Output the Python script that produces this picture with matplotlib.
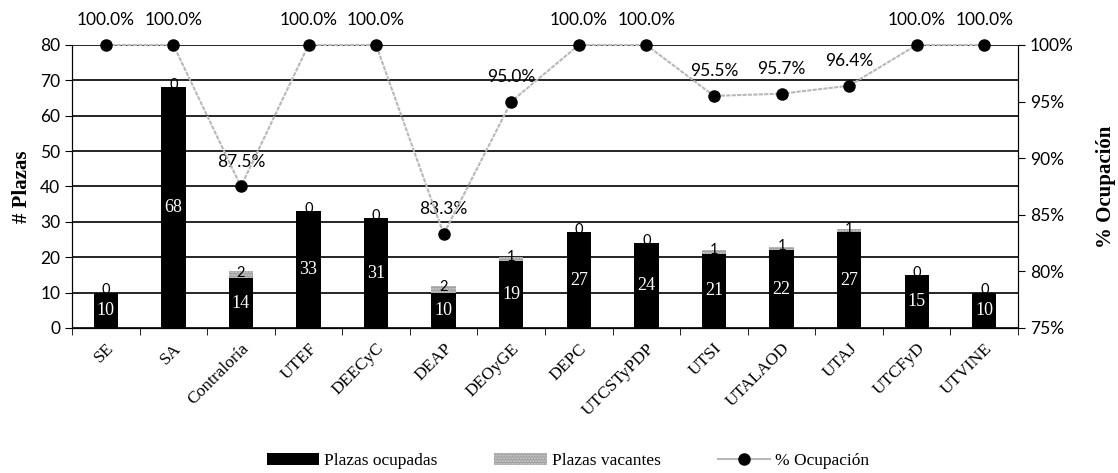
import matplotlib
matplotlib.use("Agg")
import matplotlib.pyplot as plt
from matplotlib.lines import Line2D
from matplotlib.patches import Patch
import numpy as np

categories = ["SE", "SA", "Contraloría", "UTEF", "DEECyC", "DEAP", "DEOyGE", "DEPC",
              "UTCSTyPDP", "UTSI", "UTALAOD", "UTAJ", "UTCFyD", "UTVINE"]
ocupadas = [10, 68, 14, 33, 31, 10, 19, 27, 24, 21, 22, 27, 15, 10]
vacantes = [0, 0, 2, 0, 0, 2, 1, 0, 0, 1, 1, 1, 0, 0]
ocupacion = [100.0, 100.0, 87.5, 100.0, 100.0, 83.3, 95.0, 100.0, 100.0, 95.5, 95.7, 96.4, 100.0, 100.0]

num_font = "Lato"
serif_font = "Liberation Serif"

fig = plt.figure(figsize=(11.18, 4.73), dpi=100)
ax = fig.add_axes([0.0644, 0.3066, 0.8462, 0.5983])
x = np.arange(len(categories))
w = 0.36

ax.bar(x, ocupadas, w, color="black", zorder=3)
ax.bar(x, vacantes, w, bottom=ocupadas, color="#a0a0a0", hatch="......", edgecolor="#cfcfcf", linewidth=0, zorder=3)

for i in range(len(x)):
    ax.text(x[i], ocupadas[i] / 2, str(ocupadas[i]), color="white", ha="center", va="center",
            fontsize=13, family=serif_font, zorder=5)
    ax.text(x[i], ocupadas[i] + vacantes[i] / 2 + 0.6, str(vacantes[i]), color="black", ha="center", va="center",
            fontsize=10.5, family=num_font, zorder=5)

ax.set_ylim(0, 80)
ax.set_yticks(range(0, 81, 10))
ax.set_xlim(-0.5, len(x) - 0.5)
ax.yaxis.grid(True, color="black", linewidth=1.2, zorder=0)
ax.set_axisbelow(True)
ax.set_xticks(x)
ax.set_xticklabels(categories, rotation=45, ha="right", rotation_mode="anchor",
                   family=serif_font, fontsize=12.5)
ax.tick_params(axis="x", length=0, pad=9)
ax.set_xticks(np.arange(-0.5, len(x), 1), minor=True)
ax.tick_params(axis="x", which="minor", length=5, direction="out")
ax.tick_params(axis="y", labelsize=12.5, length=5)
for lab in ax.get_yticklabels():
    lab.set_family(num_font)
ax.spines["top"].set_visible(False)
ax.set_ylabel("# Plazas", family=serif_font, fontsize=15, fontweight="bold", labelpad=6)

ax2 = ax.twinx()
ax2.plot(x, ocupacion, color="#b8b8b8", linewidth=1.5, linestyle=(0, (2, 0.6)), marker="o",
         markersize=8, markerfacecolor="black", markeredgecolor="black", zorder=6, clip_on=False)
ax2.set_ylim(75, 100)
ax2.set_yticks(range(75, 101, 5))
ax2.set_yticklabels([f"{v}%" for v in range(75, 101, 5)], family=num_font, fontsize=12.5)
ax2.tick_params(axis="y", length=5)
ax2.spines["top"].set_visible(False)
ax2.set_ylabel("% Ocupación", family=serif_font, fontsize=15, fontweight="bold", labelpad=16)
for i in range(len(x)):
    ax2.annotate(f"{ocupacion[i]:.1f}%", (x[i], ocupacion[i]), xytext=(0, 12), textcoords="offset points",
                 ha="center", va="bottom", fontsize=12.5, family=num_font, annotation_clip=False)

handles = [Patch(facecolor="black"),
           Patch(facecolor="#a0a0a0", hatch="......", edgecolor="#cfcfcf", linewidth=0),
           Line2D([0], [0], color="#b8b8b8", linewidth=1.5, marker="o", markersize=8,
                  markerfacecolor="black", markeredgecolor="black")]
fig.legend(handles, ["Plazas ocupadas", "Plazas vacantes", "% Ocupación"], loc="center",
           bbox_to_anchor=(0.508, 0.025), ncol=3, frameon=False, prop={"family": serif_font, "size": 12.5},
           columnspacing=3.3, handlelength=3.0, handletextpad=0.3)

fig.savefig("out.png", dpi=100)
